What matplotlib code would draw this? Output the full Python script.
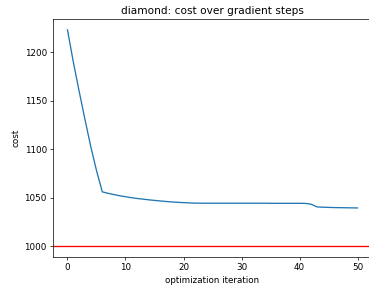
import matplotlib
matplotlib.use("Agg")
import matplotlib.pyplot as plt

iterations = list(range(51))
cost = [1223, 1190, 1160, 1131, 1103, 1078, 1056, 1054.5, 1053.2, 1052, 1051,
        1050, 1049.2, 1048.5, 1047.8, 1047.2, 1046.6, 1046.1, 1045.6, 1045.2, 1044.9,
        1044.6, 1044.4, 1044.3, 1044.3, 1044.3, 1044.3, 1044.3, 1044.3, 1044.3, 1044.3,
        1044.3, 1044.3, 1044.3, 1044.3, 1044.2, 1044.2, 1044.2, 1044.2, 1044.2, 1044.2,
        1044.1, 1043.3, 1040.5, 1040.2, 1040.0, 1039.8, 1039.7, 1039.6, 1039.5, 1039.4]
target = 1000
title = "diamond: cost over gradient steps"
xlabel = "optimization iteration"
ylabel = "cost"

s = 0.63
fig = plt.figure(figsize=(3.69, 2.86), dpi=100)
ax = fig.add_axes([0.1436, 0.1014, 0.8646, 0.832])
ax.plot(iterations, cost, color="tab:blue", lw=1.5 * s)
ax.axhline(target, color="red", lw=1.5 * s)
ax.set_title(title, fontsize=12 * s, pad=6 * s)
ax.set_xlabel(xlabel, fontsize=10 * s, labelpad=4 * s)
ax.set_ylabel(ylabel, fontsize=10 * s, labelpad=4 * s)
ax.tick_params(labelsize=10 * s, length=3.5 * s, width=0.8 * s, pad=3.5 * s)
for sp in ax.spines.values():
    sp.set_linewidth(0.8 * s)
fig.savefig("out.png", dpi=100)
